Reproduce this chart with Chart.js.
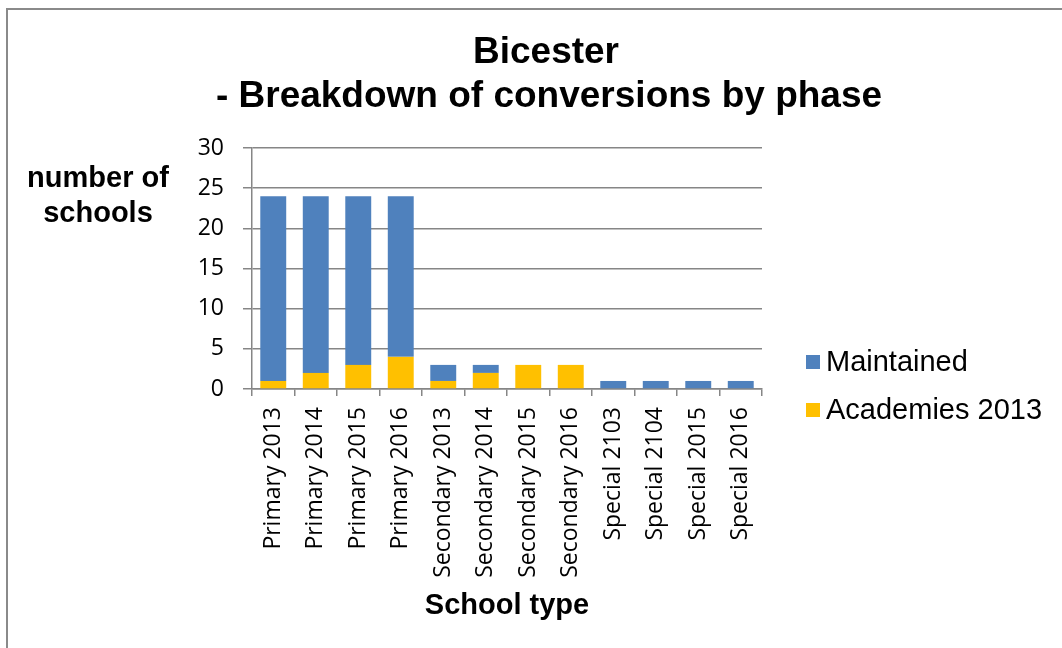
<!DOCTYPE html>
<html><head><meta charset="utf-8">
<script src="https://cdn.jsdelivr.net/npm/chart.js@4"></script>
<style>
html,body{margin:0;padding:0;background:#fff;overflow:hidden}
#wrap{position:relative;width:1062px;height:648px}
#frame{position:absolute;left:6px;top:8px;width:1080px;height:680px;border:2px solid #8a8a8a;box-sizing:border-box}
canvas{position:absolute;left:0;top:0}
</style></head>
<body><div id="wrap"><div id="frame"></div><canvas id="c" width="1062" height="648"></canvas></div>
<script>
const categories = ["Primary 2013","Primary 2014","Primary 2015","Primary 2016","Secondary 2013","Secondary 2014","Secondary 2015","Secondary 2016","Special 2103","Special 2104","Special 2015","Special 2016"];
const academies2013 = [1,2,3,4,1,2,3,3,0,0,0,0];
const maintained = [23,22,21,20,2,1,0,0,1,1,1,1];
const yMin = 0, yMax = 30, yStep = 5;
const titleLines = ["Bicester", "- Breakdown of conversions by phase"];
const yTitleLines = ["number of", "schools"];
const xTitle = "School type";

const GRID = '#868686';
const overlay = {
  id: 'overlay',
  afterDraw(chart) {
    const ctx = chart.ctx;
    ctx.save();
    ctx.fillStyle = '#000';
    ctx.textAlign = 'center';
    ctx.textBaseline = 'middle';
    ctx.font = 'bold 37px "Liberation Sans", Arial, sans-serif';
    ctx.fillText(titleLines[0], 546, 53);
    ctx.fillText(titleLines[1], 549, 97);
    ctx.font = 'bold 29px "Liberation Sans", Arial, sans-serif';
    ctx.fillText(yTitleLines[0], 98, 179);
    ctx.fillText(yTitleLines[1], 98, 214);
    // legend (reverse order like the reference)
    const items = chart.data.datasets.slice().reverse();
    ctx.textAlign = 'left';
    ctx.font = '29px "Liberation Sans", Arial, sans-serif';
    items.forEach((ds, i) => {
      const cy = 362 + i * 48;
      ctx.fillStyle = ds.backgroundColor;
      ctx.fillRect(806, cy - 7, 14, 14);
      ctx.fillStyle = '#000';
      ctx.fillText(ds.label, 826, cy + 1);
    });
    ctx.restore();
  }
};

new Chart(document.getElementById('c'), {
  type: 'bar',
  data: {
    labels: categories,
    datasets: [
      {label: 'Academies 2013', data: academies2013, backgroundColor: '#FFC000', barPercentage: 0.61, categoryPercentage: 1},
      {label: 'Maintained', data: maintained, backgroundColor: '#4F81BD', barPercentage: 0.61, categoryPercentage: 1}
    ]
  },
  options: {
    responsive: false,
    animation: false,
    events: [],
    layout: {padding: {top: 148, right: 300, bottom: 0, left: 0}},
    plugins: {legend: {display: false}, title: {display: false}, tooltip: {enabled: false}},
    scales: {
      x: {
        stacked: true,
        afterFit: s => { s.height = 259; },
        border: {color: GRID, width: 1.5},
        grid: {drawOnChartArea: false, color: GRID, tickLength: 7, offset: true, lineWidth: 1.5},
        ticks: {autoSkip: false, minRotation: 90, maxRotation: 90, padding: 11, color: '#000',
                font: {family: '"Open Sans", sans-serif', size: 23}},
        title: {display: true, text: xTitle, color: '#000', padding: {top: 0, bottom: 25},
                font: {family: '"Liberation Sans", Arial, sans-serif', size: 29, weight: 'bold'}}
      },
      y: {
        stacked: true,
        min: yMin, max: yMax,
        afterFit: s => { s.width = 252; },
        border: {color: GRID, width: 1.5},
        grid: {color: GRID, tickLength: 9, lineWidth: 1.5},
        ticks: {stepSize: yStep, padding: 19, color: '#000',
                font: {family: '"Open Sans", sans-serif', size: 23}}
      }
    }
  },
  plugins: [overlay]
});
</script>
</body></html>
